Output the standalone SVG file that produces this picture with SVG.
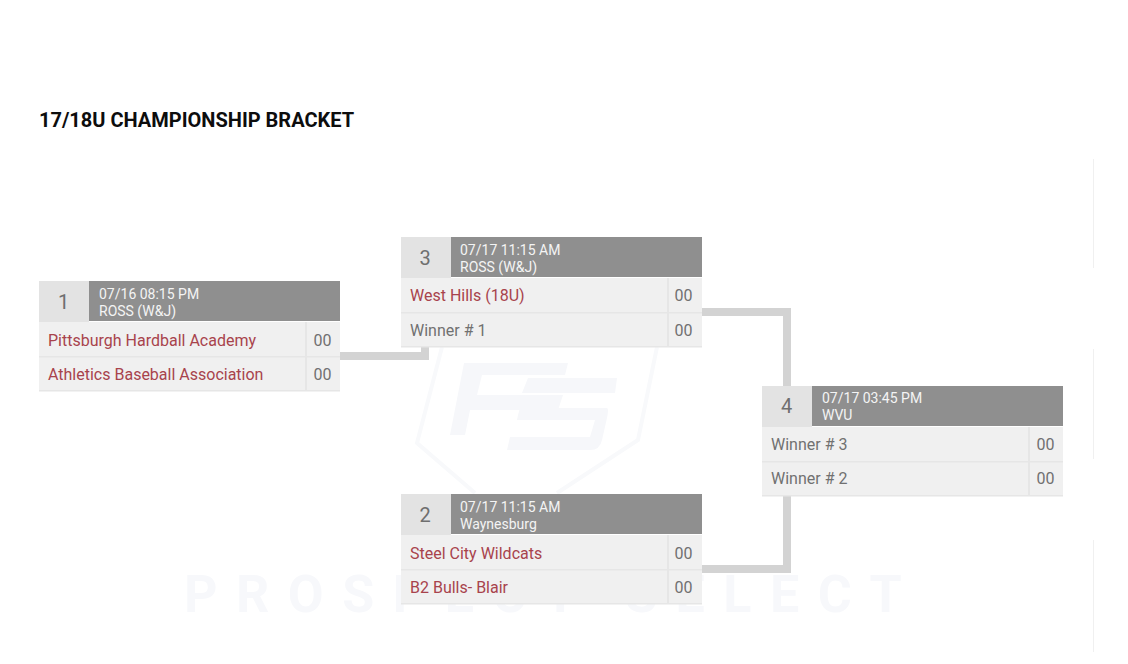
<svg xmlns="http://www.w3.org/2000/svg" width="1128" height="664" viewBox="0 0 1128 664">
<style>
text{font-family:Roboto,"Liberation Sans",sans-serif}
.title{font-size:20px;font-weight:700;fill:#0d0d0d}
.num{font-size:20px;fill:#6f6f6f;text-anchor:middle}
.info{font-size:14px;fill:#f4f4f4}
.team{font-size:16px;fill:#a8434c}
.tbd{font-size:16px;fill:#717171}
.score{font-size:16px;fill:#717171;text-anchor:middle}
.numbg{fill:#e3e3e3}
.head{fill:#8f8f8f}
.row{fill:#f0f0f0}
.sep{fill:#e6e6e6}
.conn{fill:none;stroke:#d3d3d3;stroke-width:8}
.wm{fill:#f6f7fa}
.wmline{fill:none;stroke:#f8f9fb;stroke-width:4}
.edge{stroke:#f0f0f0;stroke-width:1}
</style>
<defs>
<g id="card">
<rect class="numbg" x="0" y="0" width="50" height="41"/>
<rect class="head" x="50" y="0" width="251" height="40"/>
<rect class="row" x="0" y="41" width="301" height="69"/>
<rect class="sep" x="0" y="75" width="301" height="1.5"/>
<rect class="sep" x="0" y="109" width="301" height="1.5"/>
<rect class="sep" x="266" y="41" width="2" height="69"/>
</g>
</defs>
<rect width="1128" height="664" fill="#fff"/>
<g id="watermark">
<path class="wmline" d="M442 347 L417 443 L475 493 M657 347 L638 440 L557 493"/>
<path class="wm" d="M464 363 H568 L565 375 H482 L477 395 H563 L558 410 H470 L465 435 H450 Z"/>
<path class="wm" d="M528 378 H617 L615 393 H522 Z M518 415 L520 408 H607 Q609 408 607 418 L602 440 Q600 450 590 450 H507 L510 437 H590 L595 420 H517 Z"/>
<text x="184" y="612" font-size="52" font-weight="700" letter-spacing="18.500" fill="#f7f8fb">PROSPECT SELECT</text>
</g>
<g id="edges">
<line class="edge" x1="1093.500" y1="159" x2="1093.500" y2="268"/>
<line class="edge" x1="1093.500" y1="349" x2="1093.500" y2="459"/>
<line class="edge" x1="1093.500" y1="540" x2="1093.500" y2="652"/>
</g>
<text class="title" x="39" y="127">17/18U CHAMPIONSHIP BRACKET</text>
<g id="connectors">
<path class="conn" d="M340 356 H425 V347"/>
<path class="conn" d="M702 312 H787 V386"/>
<path class="conn" d="M702 569 H787 V496"/>
</g>
<g id="node-1" transform="translate(39 281)">
<use href="#card"/>
<text class="num" x="24.500" y="28">1</text>
<text class="info" x="60" y="18">07/16 08:15 PM</text>
<text class="info" x="60" y="35">ROSS (W&amp;J)</text>
<text class="team" x="9" y="65">Pittsburgh Hardball Academy</text>
<text class="score" x="283.500" y="65">00</text>
<text class="team" x="9" y="99">Athletics Baseball Association</text>
<text class="score" x="283.500" y="99">00</text>
</g>
<g id="node-3" transform="translate(401 237)">
<use href="#card"/>
<text class="num" x="24" y="28">3</text>
<text class="info" x="59" y="18">07/17 11:15 AM</text>
<text class="info" x="59" y="35">ROSS (W&amp;J)</text>
<text class="team" x="9" y="64">West Hills (18U)</text>
<text class="score" x="282.500" y="64">00</text>
<text class="tbd" x="9" y="99">Winner # 1</text>
<text class="score" x="282.500" y="99">00</text>
</g>
<g id="node-2" transform="translate(401 494)">
<use href="#card"/>
<text class="num" x="24" y="28">2</text>
<text class="info" x="59" y="18">07/17 11:15 AM</text>
<text class="info" x="59" y="35">Waynesburg</text>
<text class="team" x="9" y="65">Steel City Wildcats</text>
<text class="score" x="282.500" y="65">00</text>
<text class="team" x="9" y="99">B2 Bulls- Blair</text>
<text class="score" x="282.500" y="99">00</text>
</g>
<g id="node-4" transform="translate(762 386)">
<use href="#card"/>
<text class="num" x="24.500" y="27">4</text>
<text class="info" x="60" y="17">07/17 03:45 PM</text>
<text class="info" x="60" y="34">WVU</text>
<text class="tbd" x="9" y="64">Winner # 3</text>
<text class="score" x="283.500" y="64">00</text>
<text class="tbd" x="9" y="98">Winner # 2</text>
<text class="score" x="283.500" y="98">00</text>
</g>
</svg>
